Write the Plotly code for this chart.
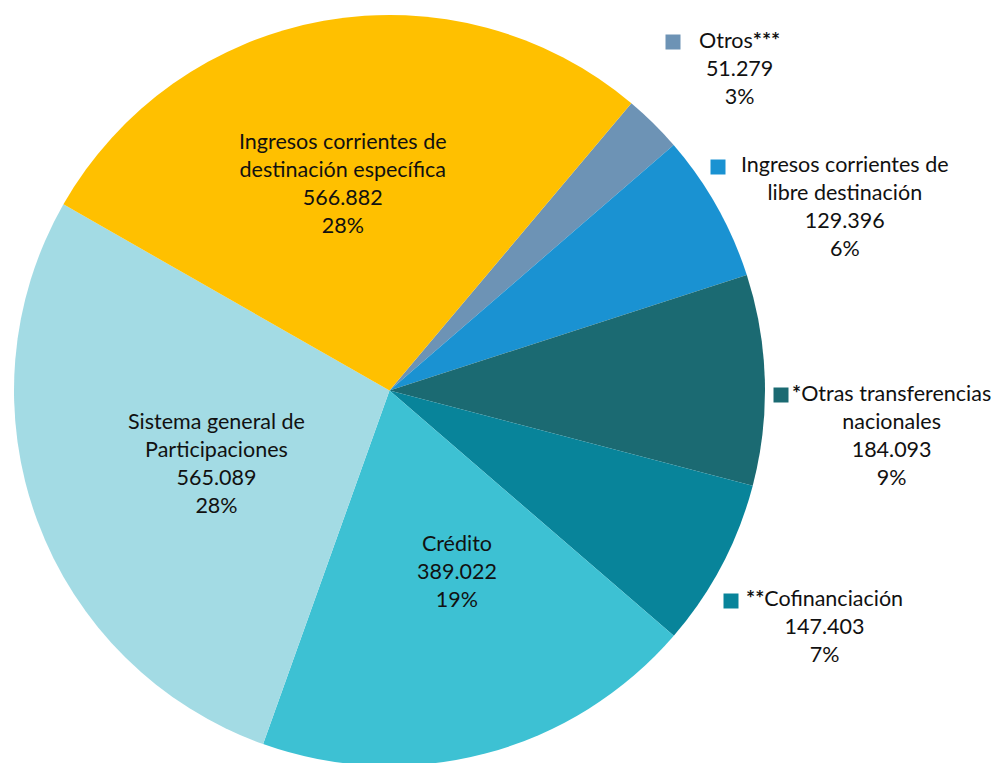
import plotly.graph_objects as go

labels = ["Otros<b>***</b>", "Ingresos corrientes de<br>libre destinación",
          "<b>*</b>Otras transferencias<br>nacionales", "<b>**</b>Cofinanciación", "Crédito",
          "Sistema general de<br>Participaciones",
          "Ingresos corrientes de<br>destinación específica"]
values = [51279, 129396, 184093, 147403, 389022, 565089, 566882]
colors = ["#6D93B5", "#1A92D2", "#1B6A72", "#08849A", "#3DC1D3", "#A3DBE4", "#FFC000"]

W, H = 1002, 763
OFF = 8  # page body margin
FONT = "Lato"
FS = 21.5

cx_pie, cy_pie, r_pie = 389.5 - OFF, 390.5 - OFF, 375.5

fig = go.Figure(go.Pie(
    labels=labels, values=values, sort=False, direction="clockwise",
    rotation=40.1, marker=dict(colors=colors, line=dict(width=0)),
    textinfo="none", hoverinfo="label+value+percent", showlegend=False,
    domain=dict(x=[(cx_pie - r_pie) / W, (cx_pie + r_pie) / W],
                y=[max(0, 1 - (cy_pie + r_pie) / H), 1 - (cy_pie - r_pie) / H]),
))

total = sum(values)

def fmt(v):
    return f"{v:,}".replace(",", ".")

# label block centres (reference px) and square marker position
placements = [
    (739, 68, True, 673, 42),
    (845, 206, True, 718, 167),
    (891, 435, True, 781, 395),
    (824, 626, True, 731, 601),
    (457, 571, False, 0, 0),
    (216, 463, False, 0, 0),
    (343, 183, False, 0, 0),
]

ann = []
shapes = []
for lab, v, c, (cx, cy, sq, sx, sy) in zip(labels, values, colors, placements):
    pct = round(100 * v / total)
    txt = f"{lab}<br>{fmt(v)}<br>{pct}%"
    ann.append(dict(x=(cx - OFF) / W, y=1 - (cy - OFF) / H, xref="paper", yref="paper",
                    text=txt, showarrow=False, align="center",
                    xanchor="center", yanchor="middle",
                    font=dict(family=FONT, size=FS, color="#111111")))
    if sq:
        s = 7.5
        x = sx - OFF
        y = sy - OFF
        shapes.append(dict(type="rect", xref="paper", yref="paper",
                           x0=(x - s) / W, x1=(x + s) / W,
                           y0=1 - (y + s) / H, y1=1 - (y - s) / H,
                           fillcolor=c, line=dict(width=0)))

fig.update_layout(width=W, height=H, margin=dict(l=0, r=0, t=0, b=0),
                  paper_bgcolor="white", plot_bgcolor="white",
                  annotations=ann, shapes=shapes)
fig.write_html("out.html")
